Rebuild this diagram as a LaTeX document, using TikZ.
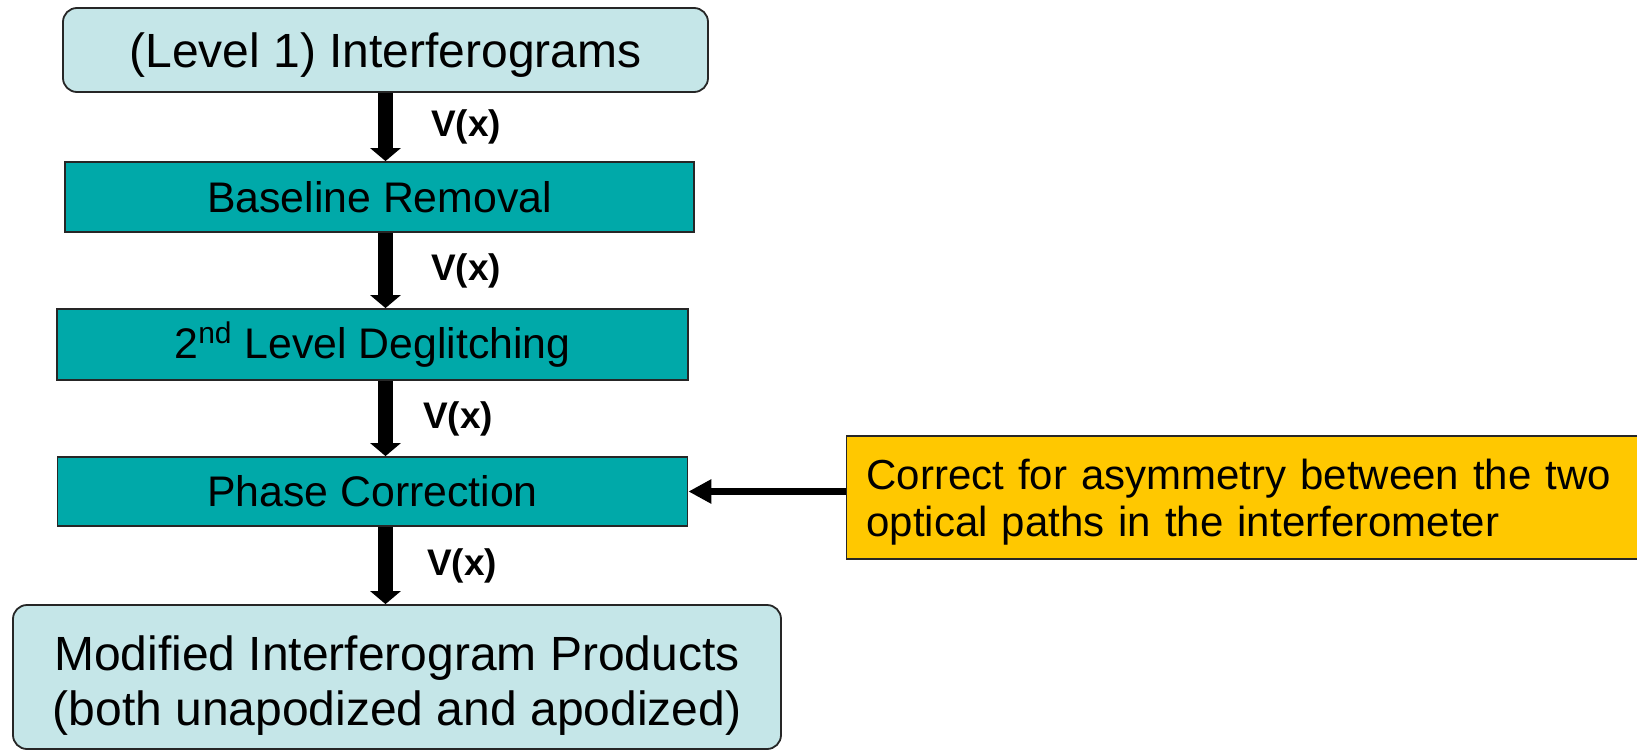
\documentclass[tikz,border=0pt]{standalone}
\usepackage{fontspec}
\setmainfont{Liberation Sans}
\usetikzlibrary{arrows.meta,positioning}
\definecolor{paleteal}{HTML}{C5E6E8}
\definecolor{procteal}{HTML}{00A9A9}
\definecolor{noteyellow}{HTML}{FFC800}

\begin{document}
\begin{tikzpicture}
      \tikzstyle{term}=[rectangle, rounded corners=7pt, line width=0.9pt, draw=black!85, fill=paleteal, inner sep=0pt, font=\fontsize{24}{27.5}\selectfont, align=center]
      \tikzstyle{proc}=[rectangle, line width=0.9pt, draw=black!85, fill=procteal, inner sep=0pt, font=\fontsize{21.4}{25}\selectfont]
      \tikzstyle{note}=[rectangle, line width=0.9pt, draw=black!85, fill=noteyellow, inner xsep=10pt, inner ysep=0pt, text width=390pt, align=left, font=\fontsize{21}{23.5}\selectfont]
      \tikzstyle{connect}=[-{Triangle[width=15pt,length=6.5pt]}, line width=7.5pt]
      \tikzstyle{feed}=[-{Triangle[width=11.5pt,length=11.5pt]}, line width=3.5pt]
      \tikzstyle{lbl}=[anchor=west, inner sep=0pt, font=\fontsize{18.5}{18.5}\selectfont\bfseries];

      \useasboundingbox (0pt,0pt) rectangle (818.5pt,375.5pt);

      \node[term, minimum width=322.5pt, minimum height=42pt, text depth=0pt] (ifg) at (192.75pt,350.5pt) {(Level 1) Interferograms};
      \node[proc, minimum width=314.5pt, minimum height=35pt] (baseline) [below=34.1pt of ifg, xshift=-3pt] {Baseline Removal};
      \node[proc, minimum width=315.5pt, minimum height=35.5pt] (deglitch) [below=37.6pt of baseline, xshift=-3.5pt] {2\textsuperscript{nd} Level Deglitching};
      \node[proc, minimum width=315pt, minimum height=34.5pt] (phase) [below=37.6pt of deglitch] {Phase Correction};
      \node[term, minimum width=384pt, minimum height=72pt, text height=53pt, text depth=5pt] (products) [below=38.6pt of phase, xshift=12.25pt] {Modified Interferogram Products\\(both unapodized and apodized)};
      \node[note, minimum height=61.5pt, text height=15.3pt, text depth=22.9pt, anchor=west] (asym) [right=78.6pt of phase, yshift=-3pt] {Correct for asymmetry between the two optical paths in the interferometer};

      \path (ifg.south) edge [connect] node[lbl, xshift=19pt] {V(x)} (ifg.south |- baseline.north);
      \path (ifg.south |- baseline.south) edge [connect] node[lbl, xshift=19pt] {V(x)} (ifg.south |- deglitch.north);
      \path (ifg.south |- deglitch.south) edge [connect] node[lbl, xshift=15pt] {V(x)} (ifg.south |- phase.north);
      \path (ifg.south |- phase.south) edge [connect] node[lbl, xshift=17pt] {V(x)} (ifg.south |- products.north);
      \path (asym.west |- phase) edge [feed] (phase.east);
    \end{tikzpicture}
\end{document}
